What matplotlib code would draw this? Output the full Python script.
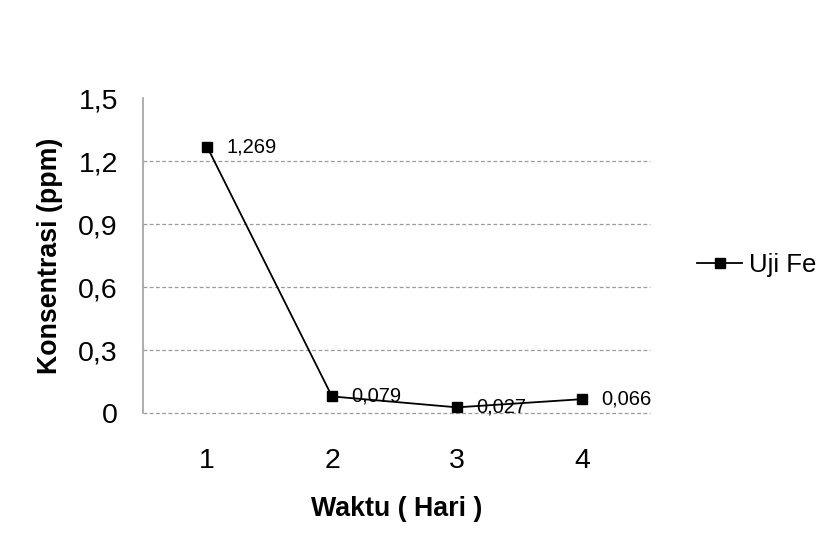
import matplotlib
matplotlib.use("Agg")
import matplotlib.pyplot as plt

# Fe concentration per day
hari = [1, 2, 3, 4]
konsentrasi = [1.269, 0.079, 0.027, 0.066]
label_nilai = ["1,269", "0,079", "0,027", "0,066"]
yticks = [0, 0.3, 0.6, 0.9, 1.2, 1.5]
ytick_labels = ["0", "0,3", "0,6", "0,9", "1,2", "1,5"]

plt.rcParams['font.family'] = ['Liberation Sans', 'DejaVu Sans']

fig = plt.figure(figsize=(8.27, 5.33), dpi=100)
ax = fig.add_axes([0.1729, 0.2251, 0.6131, 0.591])

ax.plot(hari, konsentrasi, color='black', linewidth=1.3, marker='s',
        markersize=7.8, markerfacecolor='black', label='Uji Fe', zorder=3)

# value labels right of each point
for x, y, t in zip(hari, konsentrasi, label_nilai):
    ax.annotate(t, (x, y), xytext=(13.7, 0), textcoords='offset points',
                ha='left', va='center', fontsize=14.5, zorder=4)

ax.set_xlim(0.488, 4.544)
ax.set_ylim(0, 1.5)
ax.set_xticks(hari)
ax.set_yticks(yticks)
ax.set_yticklabels(ytick_labels)
ax.tick_params(axis='both', length=0, labelsize=20.5)
ax.tick_params(axis='x', pad=25)
ax.tick_params(axis='y', pad=18)

# dotted grey gridlines, the one at zero included
for y in yticks[:-1]:
    ax.axhline(y, color='#9a9a9a', linewidth=0.9, linestyle=(0, (3, 2)),
               zorder=1, clip_on=False)

for s in ['top', 'right', 'bottom']:
    ax.spines[s].set_visible(False)
ax.spines['left'].set_color('#a0a0a0')
ax.spines['left'].set_linewidth(1.2)
ax.spines['left'].set_linestyle((0, (2, 1)))

ax.set_xlabel("Waktu ( Hari )", fontsize=19.3, fontweight='bold', labelpad=16)
ax.set_ylabel("Konsentrasi (ppm)", fontsize=19.3, fontweight='bold', labelpad=11)

ax.legend(loc='center left', bbox_to_anchor=(0.815, 0.503),
          bbox_transform=fig.transFigure, frameon=False, fontsize=18.5,
          handlelength=1.75, handletextpad=0.25)

fig.savefig("out.png", dpi=100)
